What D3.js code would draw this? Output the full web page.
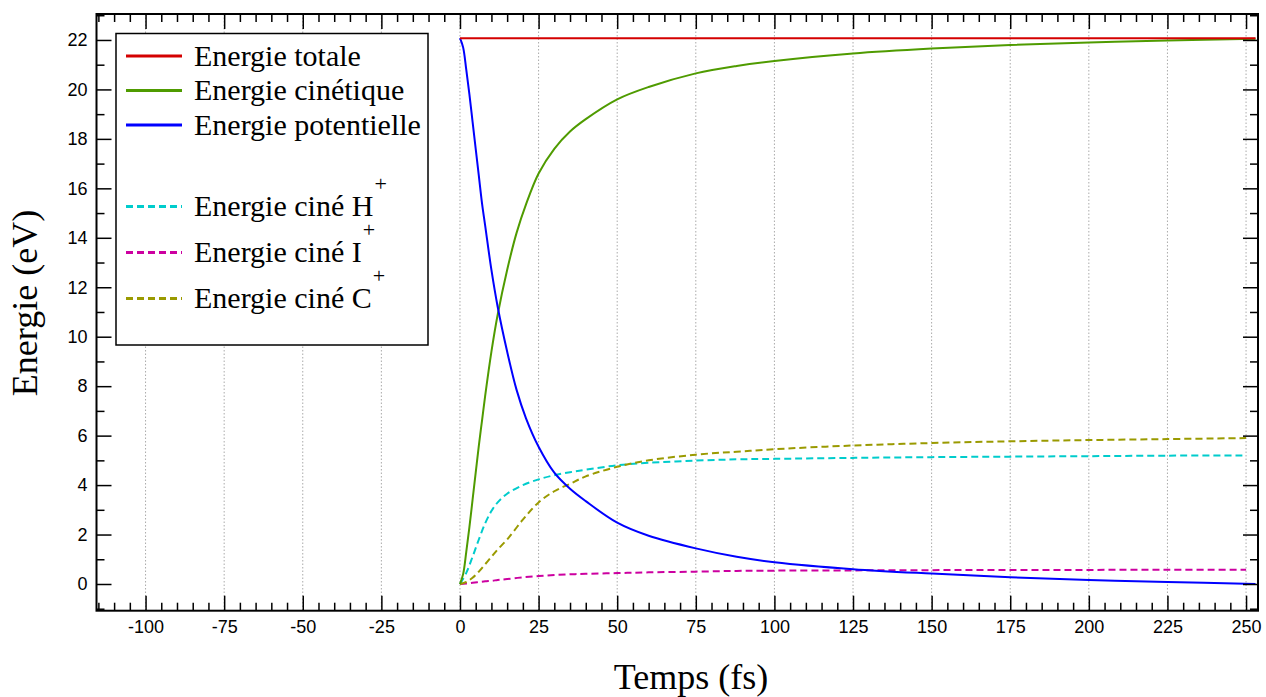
<!DOCTYPE html>
<html><head><meta charset="utf-8">
<script src="https://cdn.jsdelivr.net/npm/d3@7"></script>
<style>body{margin:0;background:#fff}svg{display:block}</style>
</head><body><svg id="c" width="1266" height="697"></svg>
<script>
// ---- data ----
const tTotal = [0, 253];
const eTotal = [22.07, 22.07];
const tMain = [0,1,2,3,4,5,6,7,8,10,12,15,18,21,25,30,35,40,50,60,75,88,100,125,150,175,200,225,253];
const eKin = [0,0.4,1.3,2.3,3.4,4.5,5.6,6.6,7.6,9.4,10.9,12.7,14.2,15.35,16.6,17.6,18.3,18.8,19.6,20.1,20.65,20.95,21.15,21.45,21.65,21.8,21.9,21.98,22.05];
const ePot = [22.07,21.7,20.8,19.8,18.7,17.6,16.5,15.4,14.5,12.7,11.2,9.4,7.85,6.7,5.55,4.5,3.85,3.35,2.48,1.95,1.44,1.1,0.88,0.6,0.42,0.27,0.16,0.08,0.0];
const tIon = [0,2,4,6,8,10,12,15,20,25,30,35,40,50,60,75,88,100,125,150,175,200,225,250];
const eH = [0,0.45,1.1,1.8,2.45,2.95,3.3,3.65,4.0,4.23,4.4,4.52,4.62,4.8,4.9,4.99,5.04,5.06,5.1,5.13,5.15,5.17,5.19,5.2];
const eI = [0,0.02,0.05,0.08,0.11,0.13,0.16,0.2,0.27,0.32,0.36,0.39,0.41,0.44,0.47,0.5,0.53,0.54,0.55,0.56,0.57,0.57,0.58,0.58];
const eC = [0,0.08,0.25,0.5,0.8,1.1,1.4,1.8,2.6,3.3,3.75,4.05,4.35,4.74,5.0,5.23,5.35,5.45,5.6,5.7,5.77,5.82,5.86,5.9];
const xMajor = [-100,-75,-50,-25,0,25,50,75,100,125,150,175,200,225,250];
const yMajor = [0,2,4,6,8,10,12,14,16,18,20,22];
const seriesNames = ["Energie totale","Energie cinétique","Energie potentielle","Energie ciné H","Energie ciné I","Energie ciné C"];

// ---- layout ----
const L = 96.5, R = 1258, T = 14, B = 610.7;
const x = d3.scaleLinear().domain([-115.6, 253.8]).range([L, R]);
const y = d3.scaleLinear().domain([-1.08, 23.05]).range([B, T]);
const svg = d3.select("#c");

const xMinor = d3.range(-115, 254, 5).filter(v => v % 25 !== 0);
const yMinor = d3.range(-1, 24, 1).filter(v => v % 2 !== 0);

// grid
svg.append("g").selectAll("line").data(xMajor).join("line")
  .attr("x1", d => x(d)).attr("x2", d => x(d)).attr("y1", T).attr("y2", B)
  .attr("stroke", "#aaa").attr("stroke-width", 1).attr("stroke-dasharray", "1.5,2");

// curves
const line = d3.line().x(d => x(d[0])).y(d => y(d[1])).curve(d3.curveCatmullRom.alpha(0.5));
const zipS = (t, v) => t.map((d, i) => [d, v[i]]);
const series = [
  {name: seriesNames[0], data: zipS(tTotal, eTotal), color: "#d40000", dash: null},
  {name: seriesNames[1], data: zipS(tMain, eKin), color: "#4f9b00", dash: null},
  {name: seriesNames[2], data: zipS(tMain, ePot), color: "#0000ff", dash: null},
  {name: seriesNames[3], data: zipS(tIon, eH), color: "#00cccc", dash: "7,4"},
  {name: seriesNames[4], data: zipS(tIon, eI), color: "#cc00a0", dash: "7,4"},
  {name: seriesNames[5], data: zipS(tIon, eC), color: "#9a9a00", dash: "7,4"}
];
const drawOrder = [3,4,5,1,2,0];
drawOrder.forEach(i => {
  const s = series[i];
  svg.append("path").datum(s.data).attr("d", line).attr("fill", "none")
    .attr("stroke", s.color).attr("stroke-width", 2)
    .attr("stroke-dasharray", s.dash);
});

// axes (ticks inward on all sides)
const fontTick = "Liberation Sans, Arial, sans-serif";
const fmt = d => String(d);
function styleAxis(g) {
  g.select(".domain").remove();
  g.selectAll(".tick line").attr("stroke", "#000").attr("stroke-width", 1.5);
  g.selectAll("text").attr("font-family", fontTick).attr("font-size", 18).attr("fill", "#000");
}
svg.append("g").attr("transform", `translate(0,${B})`)
  .call(d3.axisBottom(x).tickValues(xMajor).tickSize(-15).tickPadding(10).tickFormat(fmt)).call(styleAxis);
svg.append("g").attr("transform", `translate(0,${B})`)
  .call(d3.axisBottom(x).tickValues(xMinor).tickSize(-8).tickFormat("")).call(styleAxis);
svg.append("g").attr("transform", `translate(0,${T})`)
  .call(d3.axisTop(x).tickValues(xMajor).tickSize(-15).tickFormat("")).call(styleAxis);
svg.append("g").attr("transform", `translate(0,${T})`)
  .call(d3.axisTop(x).tickValues(xMinor).tickSize(-8).tickFormat("")).call(styleAxis);
svg.append("g").attr("transform", `translate(${L},0)`)
  .call(d3.axisLeft(y).tickValues(yMajor).tickSize(-15).tickPadding(9).tickFormat(fmt)).call(styleAxis);
svg.append("g").attr("transform", `translate(${L},0)`)
  .call(d3.axisLeft(y).tickValues(yMinor).tickSize(-8).tickFormat("")).call(styleAxis);
svg.append("g").attr("transform", `translate(${R},0)`)
  .call(d3.axisRight(y).tickValues(yMajor).tickSize(-15).tickFormat("")).call(styleAxis);
svg.append("g").attr("transform", `translate(${R},0)`)
  .call(d3.axisRight(y).tickValues(yMinor).tickSize(-8).tickFormat("")).call(styleAxis);

// frame
svg.append("rect").attr("x", L).attr("y", T).attr("width", R - L).attr("height", B - T)
  .attr("fill", "none").attr("stroke", "#000").attr("stroke-width", 2);

// axis titles
const serif = "Liberation Serif, Times New Roman, serif";
svg.append("text").attr("x", 691).attr("y", 689).attr("text-anchor", "middle")
  .attr("font-family", serif).attr("font-size", 36).text("Temps (fs)");
svg.append("text").attr("transform", "translate(37,303) rotate(-90)").attr("text-anchor", "middle")
  .attr("font-family", serif).attr("font-size", 36).text("Energie (eV)");

// legend
const lg = svg.append("g");
lg.append("rect").attr("x", 116).attr("y", 33.5).attr("width", 312).attr("height", 311.5)
  .attr("fill", "#fff").attr("stroke", "#000").attr("stroke-width", 1.5);
const rowY = [56, 90.5, 125, 206.5, 252.5, 298.5];
const sup = [null, null, null, "+", "+", "+"];
series.forEach((s, i) => {
  lg.append("line").attr("x1", 126).attr("x2", 182).attr("y1", rowY[i]).attr("y2", rowY[i])
    .attr("stroke", s.color).attr("stroke-width", 3).attr("stroke-dasharray", s.dash);
  const t = lg.append("text").attr("x", 194).attr("y", rowY[i] + 9.5)
    .attr("font-family", serif).attr("font-size", 30).text(s.name);
  if (sup[i]) t.append("tspan").attr("dx", 1).attr("dy", -25).attr("font-size", 22).text(sup[i]);
});
</script></body></html>
